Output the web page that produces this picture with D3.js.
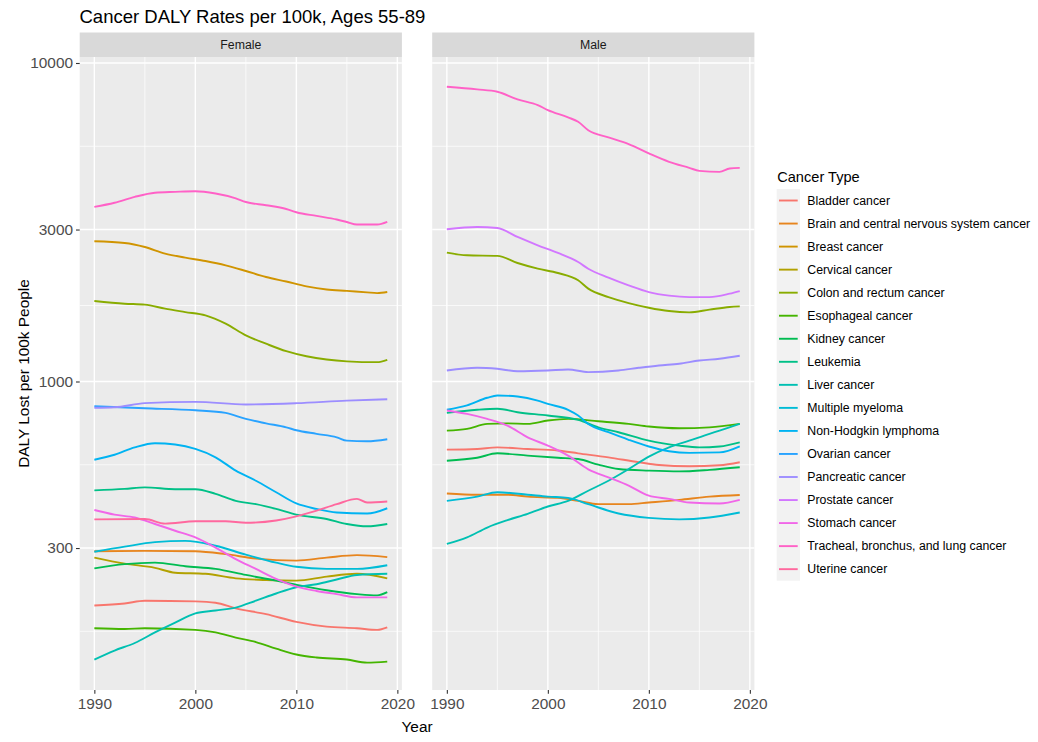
<!DOCTYPE html>
<html>
<head>
<meta charset="utf-8">
<script src="https://cdn.jsdelivr.net/npm/d3@7"></script>
<style>
  body { margin: 0; background: #fff; }
  text { font-family: "Liberation Sans", Arial, sans-serif; }
</style>
</head>
<body>
<svg id="chart" width="1038" height="742"></svg>
<script>
// data
const cancerTypes = [
  "Bladder cancer", "Brain and central nervous system cancer", "Breast cancer",
  "Cervical cancer", "Colon and rectum cancer", "Esophageal cancer", "Kidney cancer",
  "Leukemia", "Liver cancer", "Multiple myeloma", "Non-Hodgkin lymphoma",
  "Ovarian cancer", "Pancreatic cancer", "Prostate cancer", "Stomach cancer",
  "Tracheal, bronchus, and lung cancer", "Uterine cancer"
];
const sexes = ["Female", "Male"];
const xTicks = [1990, 2000, 2010, 2020];
const xMinor = [1995, 2005, 2015];
const yTicks = [300, 1000, 3000, 10000];

// Female: [year, DALY per 100k]
const fBladder = [[1990,198],[1993,201],[1995,205],[2000,204],[2002,202],[2004,194],[2007,186],[2010,176],[2013,170],[2016,168],[2018,166],[2019,169]];
const fBrain = [[1990,293],[1995,294],[2000,293],[2003,287],[2006,278],[2010,274],[2013,280],[2016,285],[2019,281]];
const fBreast = [[1990,2756],[1993,2722],[1995,2644],[1997,2521],[1999,2449],[2001,2389],[2003,2316],[2005,2223],[2007,2128],[2009,2060],[2011,1990],[2013,1945],[2015,1925],[2017,1905],[2018,1895],[2019,1909]];
const fCervical = [[1990,280],[1993,268],[1996,260],[1998,251],[2001,249],[2004,241],[2007,238],[2010,237],[2013,244],[2016,249],[2019,241]];
const fColon = [[1990,1789],[1993,1755],[1995,1743],[1997,1693],[1999,1652],[2001,1613],[2003,1519],[2005,1395],[2007,1314],[2009,1245],[2011,1200],[2013,1172],[2015,1157],[2018,1150],[2019,1170]];
const fEsophageal = [[1990,168],[1993,167],[1995,168],[2000,166],[2002,163],[2004,157],[2006,152],[2008,145],[2010,139],[2012,136],[2015,134],[2017,131],[2019,132]];
const fKidney = [[1990,259],[1993,267],[1996,270],[1999,263],[2002,258],[2005,247],[2008,237],[2010,230],[2013,221],[2016,215],[2018,213],[2019,218]];
const fLeukemia = [[1990,455],[1993,460],[1995,465],[1998,459],[2000,459],[2002,444],[2004,422],[2006,412],[2008,398],[2010,382],[2013,370],[2015,357],[2017,351],[2019,357]];
const fLiver = [[1990,134],[1992,143],[1994,151],[1996,163],[1998,175],[2000,187],[2002,191],[2004,195],[2006,205],[2008,216],[2010,226],[2012,231],[2014,239],[2016,247],[2019,249]];
const fMyeloma = [[1990,292],[1993,303],[1996,313],[1999,316],[2002,305],[2005,286],[2008,270],[2010,262],[2013,258],[2016,258],[2019,265]];
const fNHL = [[1990,568],[1992,589],[1994,621],[1996,640],[1998,634],[2000,614],[2002,578],[2004,525],[2006,488],[2008,449],[2010,414],[2012,398],[2014,388],[2017,385],[2019,400]];
const fOvarian = [[1990,836],[1995,824],[2000,812],[2003,797],[2005,763],[2007,739],[2009,718],[2010,703],[2012,685],[2014,668],[2015,652],[2017,649],[2019,659]];
const fPancreatic = [[1990,827],[1992,830],[1995,855],[2000,863],[2005,847],[2010,855],[2015,871],[2019,880]];
const fStomach = [[1990,395],[1992,382],[1994,374],[1996,357],[1998,340],[2000,324],[2002,301],[2004,277],[2006,258],[2008,240],[2010,227],[2012,220],[2014,215],[2016,210],[2019,210]];
const fTracheal = [[1990,3533],[1992,3640],[1994,3800],[1996,3915],[1998,3940],[2000,3958],[2002,3893],[2004,3760],[2005,3660],[2007,3577],[2009,3480],[2010,3400],[2012,3310],[2014,3225],[2015,3169],[2016,3110],[2018,3110],[2019,3169]];
const fUterine = [[1990,369],[1995,370],[1997,358],[2000,364],[2003,364],[2005,360],[2008,366],[2010,377],[2012,393],[2014,412],[2016,428],[2017,417],[2019,420]];

// Male: [year, DALY per 100k]
const mBladder = [[1990,611],[1993,614],[1995,621],[1998,614],[2001,607],[2003,595],[2006,578],[2009,558],[2011,547],[2014,542],[2017,546],[2019,558]];
const mBrain = [[1990,445],[1993,441],[1996,441],[1998,435],[2001,431],[2003,422],[2005,412],[2008,412],[2010,417],[2013,425],[2016,435],[2019,440]];
const mColon = [[1990,2539],[1992,2490],[1995,2480],[1997,2355],[1999,2261],[2001,2191],[2003,2078],[2004,1957],[2006,1841],[2008,1763],[2010,1705],[2012,1664],[2014,1648],[2016,1681],[2018,1713],[2019,1721]];
const mEsophageal = [[1990,701],[1992,710],[1994,736],[1996,739],[1998,736],[2000,754],[2002,763],[2005,750],[2008,736],[2010,722],[2013,713],[2016,718],[2019,736]];
const mKidney = [[1990,564],[1993,576],[1995,595],[1998,585],[2001,576],[2003,571],[2005,548],[2007,531],[2010,525],[2013,522],[2016,528],[2019,538]];
const mLeukemia = [[1990,797],[1993,815],[1995,821],[1997,801],[2000,782],[2003,758],[2005,718],[2007,693],[2010,652],[2013,629],[2015,621],[2017,625],[2019,644]];
const mLiver = [[1990,309],[1992,324],[1994,348],[1996,367],[1998,384],[2000,405],[2002,422],[2004,454],[2006,488],[2008,531],[2010,581],[2012,621],[2014,652],[2016,685],[2017,701],[2019,736]];
const mMyeloma = [[1990,422],[1993,435],[1995,449],[1998,441],[2000,435],[2002,431],[2004,412],[2007,385],[2010,373],[2013,369],[2016,374],[2019,388]];
const mNHL = [[1990,815],[1992,841],[1994,889],[1995,904],[1997,897],[1999,871],[2000,851],[2002,815],[2003,782],[2004,735],[2006,693],[2008,656],[2010,625],[2012,604],[2014,597],[2017,599],[2019,626]];
const mPancreatic = [[1990,1083],[1993,1104],[1995,1096],[1997,1077],[2000,1083],[2002,1091],[2004,1070],[2007,1083],[2009,1104],[2011,1123],[2013,1137],[2015,1164],[2017,1179],[2019,1205]];
const mProstate = [[1990,3006],[1993,3056],[1995,3034],[1997,2843],[1999,2677],[2001,2532],[2003,2372],[2004,2260],[2006,2119],[2008,2004],[2010,1909],[2012,1860],[2014,1841],[2016,1841],[2018,1887],[2019,1923]];
const mStomach = [[1990,811],[1992,791],[1994,763],[1996,727],[1998,668],[2000,629],[2002,585],[2004,530],[2006,500],[2008,471],[2010,438],[2012,428],[2014,417],[2017,414],[2019,425]];
const mTracheal = [[1990,8423],[1993,8267],[1995,8124],[1997,7689],[1999,7378],[2000,7116],[2002,6749],[2003,6537],[2004,6150],[2006,5839],[2008,5563],[2010,5200],[2012,4894],[2014,4686],[2015,4585],[2017,4552],[2018,4665],[2019,4686]];

const series = {
  Female: {
    "Bladder cancer": fBladder, "Brain and central nervous system cancer": fBrain,
    "Breast cancer": fBreast, "Cervical cancer": fCervical, "Colon and rectum cancer": fColon,
    "Esophageal cancer": fEsophageal, "Kidney cancer": fKidney, "Leukemia": fLeukemia,
    "Liver cancer": fLiver, "Multiple myeloma": fMyeloma, "Non-Hodgkin lymphoma": fNHL,
    "Ovarian cancer": fOvarian, "Pancreatic cancer": fPancreatic, "Stomach cancer": fStomach,
    "Tracheal, bronchus, and lung cancer": fTracheal, "Uterine cancer": fUterine
  },
  Male: {
    "Bladder cancer": mBladder, "Brain and central nervous system cancer": mBrain,
    "Colon and rectum cancer": mColon, "Esophageal cancer": mEsophageal,
    "Kidney cancer": mKidney, "Leukemia": mLeukemia, "Liver cancer": mLiver,
    "Multiple myeloma": mMyeloma, "Non-Hodgkin lymphoma": mNHL,
    "Pancreatic cancer": mPancreatic, "Prostate cancer": mProstate,
    "Stomach cancer": mStomach, "Tracheal, bronchus, and lung cancer": mTracheal
  }
};

// ggplot's hue palette: polar Luv, c = 100, l = 65
function hcl2hex(h, c, l) {
  const hr = h * Math.PI / 180;
  const U = c * Math.cos(hr), V = c * Math.sin(hr);
  const Xn = 95.047, Yn = 100, Zn = 108.883;
  const Y = Yn * Math.pow((l + 16) / 116, 3);
  const den = Xn + 15 * Yn + 3 * Zn;
  const u = U / (13 * l) + 4 * Xn / den, v = V / (13 * l) + 9 * Yn / den;
  const X = 9 * Y * u / (4 * v), Z = Y * (12 - 3 * u - 20 * v) / (4 * v);
  const lin = [
    3.240479 * X - 1.53715 * Y - 0.498535 * Z,
    -0.969256 * X + 1.875992 * Y + 0.041556 * Z,
    0.055648 * X - 0.204043 * Y + 1.057311 * Z
  ].map(t => t / 100);
  const g = lin.map(t => {
    const s = t <= 0.0031308 ? 12.92 * t : 1.055 * Math.pow(t, 1 / 2.4) - 0.055;
    return Math.round(255 * Math.max(0, Math.min(1, s)));
  });
  return d3.rgb(g[0], g[1], g[2]).formatHex();
}
const n = cancerTypes.length;
const color = d3.scaleOrdinal()
  .domain(cancerTypes)
  .range(cancerTypes.map((d, i) => hcl2hex(15 + i * 360 / n, 100, 65)));

const svg = d3.select("#chart");
const font = '"Liberation Sans", Arial, sans-serif';

const panelTop = 57, panelBottom = 690;
const panelW = 322.2;
const panelX = { Female: 79.7, Male: 432.2 };
const stripTop = 32.5;

const y = d3.scaleLog()
  .domain([107.5, 10443])
  .range([panelBottom, panelTop]);

const yMinor = [164.3, 547.7, 1732, 5477];

svg.append("rect").attr("width", 1038).attr("height", 742).attr("fill", "#fff");

// title
svg.append("text")
  .attr("x", 79.5).attr("y", 22.7)
  .attr("font-size", 18.5).attr("fill", "#000")
  .text("Cancer DALY Rates per 100k, Ages 55-89");

const line = d3.line().curve(d3.curveMonotoneX);

sexes.forEach(sex => {
  const x0 = panelX[sex];
  const x = d3.scaleLinear()
    .domain([1990 - 1.45, 2019 + 1.45])
    .range([x0, x0 + panelW]);
  const g = svg.append("g");

  // strip
  g.append("rect")
    .attr("x", x0).attr("y", stripTop)
    .attr("width", panelW).attr("height", panelTop - stripTop)
    .attr("fill", "#D9D9D9");
  g.append("text")
    .attr("x", x0 + panelW / 2).attr("y", (stripTop + panelTop) / 2 + 4.3)
    .attr("text-anchor", "middle").attr("font-size", 12.3).attr("fill", "#1A1A1A")
    .text(sex);

  // panel
  g.append("rect")
    .attr("x", x0).attr("y", panelTop)
    .attr("width", panelW).attr("height", panelBottom - panelTop)
    .attr("fill", "#EBEBEB");

  g.selectAll(".ymin").data(yMinor).join("line")
    .attr("x1", x0).attr("x2", x0 + panelW)
    .attr("y1", d => y(d)).attr("y2", d => y(d))
    .attr("stroke", "#fff").attr("stroke-width", 0.7);
  g.selectAll(".xmin").data(xMinor).join("line")
    .attr("x1", d => x(d)).attr("x2", d => x(d))
    .attr("y1", panelTop).attr("y2", panelBottom)
    .attr("stroke", "#fff").attr("stroke-width", 0.7);
  g.selectAll(".ymaj").data(yTicks).join("line")
    .attr("x1", x0).attr("x2", x0 + panelW)
    .attr("y1", d => y(d)).attr("y2", d => y(d))
    .attr("stroke", "#fff").attr("stroke-width", 1.4);
  g.selectAll(".xmaj").data(xTicks).join("line")
    .attr("x1", d => x(d)).attr("x2", d => x(d))
    .attr("y1", panelTop).attr("y2", panelBottom)
    .attr("stroke", "#fff").attr("stroke-width", 1.4);

  // lines
  line.x(d => x(d[0])).y(d => y(d[1]));
  cancerTypes.filter(c => series[sex][c]).forEach(c => {
    g.append("path")
      .datum(series[sex][c])
      .attr("fill", "none")
      .attr("stroke", color(c))
      .attr("stroke-width", 1.9)
      .attr("stroke-linejoin", "round")
      .attr("d", line);
  });

  // x axis
  const xa = g.append("g")
    .attr("transform", `translate(0,${panelBottom})`)
    .call(d3.axisBottom(x).tickValues(xTicks).tickFormat(d3.format("d")).tickSize(3.7).tickPadding(4));
  xa.select(".domain").remove();
  xa.selectAll(".tick line").attr("stroke", "#333333").attr("stroke-width", 1.1);
  xa.selectAll(".tick text").attr("font-family", font).attr("font-size", 15.4).attr("fill", "#4D4D4D");

  if (sex === "Female") {
    const ya = g.append("g")
      .attr("transform", `translate(${x0},0)`)
      .call(d3.axisLeft(y).tickValues(yTicks).tickFormat(d3.format("d")).tickSize(3.7).tickPadding(3));
    ya.select(".domain").remove();
    ya.selectAll(".tick line").attr("stroke", "#333333").attr("stroke-width", 1.1);
    ya.selectAll(".tick text").attr("font-family", font).attr("font-size", 15.4).attr("fill", "#4D4D4D");
  }
});

// axis titles
svg.append("text")
  .attr("x", (panelX.Female + panelX.Male + panelW) / 2).attr("y", 731.7)
  .attr("text-anchor", "middle").attr("font-size", 15.4).attr("fill", "#000")
  .text("Year");
svg.append("text")
  .attr("transform", `translate(29,${(panelTop + panelBottom) / 2}) rotate(-90)`)
  .attr("text-anchor", "middle").attr("font-size", 15.4).attr("fill", "#000")
  .text("DALY Lost per 100k People");

// legend
const lg = svg.append("g").attr("transform", "translate(776.7,0)");
lg.append("text")
  .attr("x", 0.5).attr("y", 181.5)
  .attr("font-size", 14.6).attr("fill", "#000")
  .text("Cancer Type");
const keyH = 23.04, keyTop = 189;
lg.append("rect")
  .attr("x", 0).attr("y", keyTop)
  .attr("width", 23.3).attr("height", keyH * n)
  .attr("fill", "#F2F2F2");
const items = lg.selectAll(".item").data(cancerTypes).join("g")
  .attr("transform", (d, i) => `translate(0,${keyTop + keyH * (i + 0.5)})`);
items.append("line")
  .attr("x1", 2.3).attr("x2", 21)
  .attr("stroke", d => color(d)).attr("stroke-width", 1.9);
items.append("text")
  .attr("x", 30.6).attr("y", 4.3)
  .attr("font-size", 12.3).attr("fill", "#000")
  .text(d => d);
</script>
</body>
</html>
